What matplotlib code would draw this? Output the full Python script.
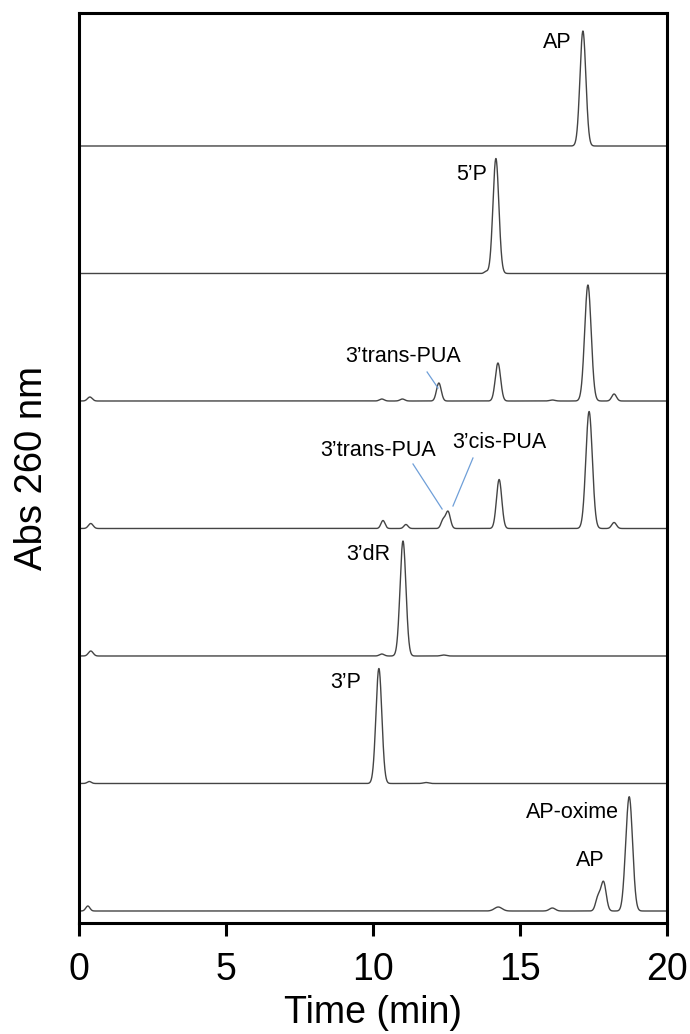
import numpy as np
import matplotlib.pyplot as plt

plt.rcParams['font.family'] = ['Liberation Sans', 'DejaVu Sans']

# peak tables per chromatogram, bottom trace first: (retention time min, height, sigma min)
oxime_rt = [0.30, 14.26, 16.10, 17.65, 17.84, 18.58, 18.72]
oxime_h = [5, 4, 3, 13, 29, 10, 112]
oxime_w = [0.07, 0.13, 0.10, 0.08, 0.09, 0.08, 0.11]

p3_rt = [0.35, 10.20, 11.80]
p3_h = [2, 115, 1]
p3_w = [0.07, 0.10, 0.09]

dr_rt = [0.40, 10.30, 11.02, 12.40]
dr_h = [5, 2, 115, 1]
dr_w = [0.08, 0.08, 0.10, 0.09]

pua2_rt = [0.40, 10.34, 11.12, 12.38, 12.55, 14.29, 17.35, 18.20]
pua2_h = [5, 8, 4, 8, 17, 49, 117, 6]
pua2_w = [0.08, 0.07, 0.07, 0.07, 0.08, 0.09, 0.11, 0.08]

pua1_rt = [0.37, 10.30, 11.00, 12.24, 14.25, 16.10, 17.31, 18.20]
pua1_h = [4, 2, 2, 18, 38, 1, 116, 7]
pua1_w = [0.08, 0.08, 0.08, 0.08, 0.09, 0.09, 0.11, 0.08]

p5_rt = [13.84, 14.18]
p5_h = [2, 115]
p5_w = [0.06, 0.10]

ap_rt = [17.14]
ap_h = [115]
ap_w = [0.10]

traces = [(oxime_rt, oxime_h, oxime_w), (p3_rt, p3_h, p3_w), (dr_rt, dr_h, dr_w),
          (pua2_rt, pua2_h, pua2_w), (pua1_rt, pua1_h, pua1_w), (p5_rt, p5_h, p5_w),
          (ap_rt, ap_h, ap_w)]

t = np.linspace(0, 20, 4001)
spacing = 127.5
base0 = 12

fig = plt.figure(figsize=(6.9, 10.34), dpi=100)
ax = fig.add_axes([79/690, 111/1034, 588/690, 910/1034])

for i, (rt, h, w) in enumerate(traces):
    y = np.zeros_like(t)
    for r, hh, ww in zip(rt, h, w):
        y += hh * np.exp(-0.5 * ((t - r) / ww) ** 2)
    ax.plot(t, base0 + i * spacing + y, color='#444444', lw=1.0)

lab = dict(fontsize=15.5, ha='center', va='center')
ax.text(16.26, 881, 'AP', **lab)
ax.text(13.37, 749, '5\u2019P', **lab)
ax.text(11.02, 566, '3\u2019trans-PUA', **lab)
ax.text(10.17, 473, '3\u2019trans-PUA', **lab)
ax.text(14.29, 480, '3\u2019cis-PUA', **lab)
ax.text(9.83, 368, '3\u2019dR', **lab)
ax.text(9.08, 240, '3\u2019P', **lab)
ax.text(16.77, 111, 'AP-oxime', **lab)
ax.text(17.38, 63, 'AP', **lab)

blue = '#6f9fd8'
ax.plot([11.84, 12.21], [551, 535], color=blue, lw=0.9)
ax.plot([11.36, 12.35], [459, 414], color=blue, lw=0.9)
ax.plot([13.40, 12.72], [465, 417], color=blue, lw=0.9)

ax.set_xlim(0, 20)
ax.set_ylim(0, 910)
ax.set_xticks([0, 5, 10, 15, 20])
ax.set_yticks([])
for s in ax.spines.values():
    s.set_linewidth(2.2)
ax.tick_params(axis='x', direction='out', length=9, width=2.2, labelsize=27, pad=12)
ax.set_xlabel('Time (min)', fontsize=27, labelpad=5)
ax.set_ylabel('Abs 260 nm', fontsize=27.5, labelpad=21)

fig.savefig('out.png', dpi=100)
